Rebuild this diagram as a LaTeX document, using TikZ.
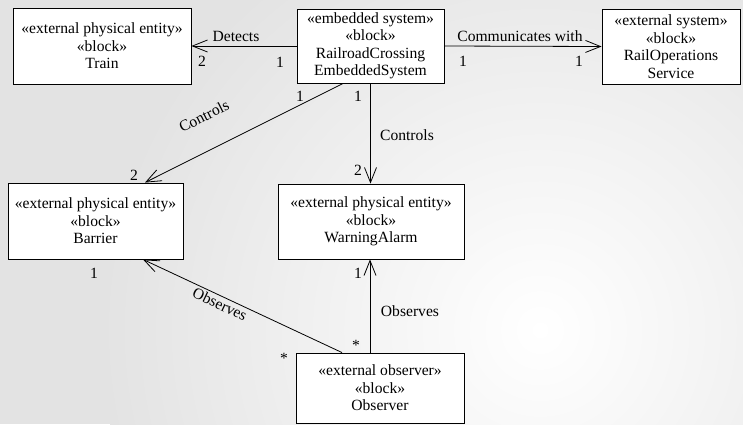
\documentclass[tikz,border=0pt]{standalone}
\usepackage{fontspec}
\setmainfont{Liberation Serif}
\usetikzlibrary{arrows.meta}
\begin{document}
\begin{tikzpicture}[x=1pt,y=-1pt,
  block/.style={draw=black,line width=0.9pt,fill=white,align=center,
    inner sep=0pt,font=\rmfamily\fontsize{15.6}{17.5}\selectfont},
  assoc/.style={draw=black,line width=0.8pt,
    -{Straight Barb[length=15pt,width=12pt,line width=0.8pt]}},
  lbl/.style={inner sep=0pt,font=\rmfamily\fontsize{15.6}{16}\selectfont},
  mult/.style={inner sep=0pt,font=\rmfamily\fontsize{15.6}{16}\selectfont}]
  % background
  \useasboundingbox (0,0) rectangle (743,424);
  \fill[black!11] (0,0) rectangle (743,424);
  \shade[inner color=white,outer color=black!11] (540,330) circle[radius=440];

  % blocks
  \node[block,minimum width=178pt,minimum height=76pt] (train) at (102,46)
    {«external physical entity»\\«block»\\Train};
  \node[block,minimum width=147pt,minimum height=74pt] (rc) at (370.5,46)
    {«embedded system»\\«block»\\RailroadCrossing\\EmbeddedSystem};
  \node[block,minimum width=138pt,minimum height=75pt] (ops) at (671,46.5)
    {«external system»\\«block»\\RailOperations\\Service};
  \node[block,minimum width=175pt,minimum height=76pt] (barrier) at (95.5,221)
    {«external physical entity»\\«block»\\Barrier};
  \node[block,minimum width=186pt,minimum height=75pt] (alarm) at (371,221.5)
    {«external physical entity»\\«block»\\WarningAlarm};
  \node[block,minimum width=168pt,minimum height=70pt] (obs) at (380,388)
    {«external observer»\\«block»\\Observer};

  % associations
  \draw[assoc] (rc.west) -- (train.east);
  \draw[assoc] (rc.east) -- (ops.west);
  \draw[assoc] ([xshift=-27.5pt]rc.south) -- ([xshift=49.5pt]barrier.north);
  \draw[assoc] (rc.south) -- (rc.south |- alarm.north);
  \draw[assoc] ([xshift=-38pt]obs.north) -- ([xshift=47.5pt]barrier.south);
  \draw[assoc] ([xshift=-10pt]obs.north) -- ([xshift=-10pt]obs.north |- alarm.south);

  % association names
  \node[lbl] (lDetects) at (236,36) {Detects};
  \node[lbl] (lComm) at (520,36) {Communicates with};
  \node[lbl,rotate=26.6] (lCtrlB) at (204,116) {Controls};
  \node[lbl] (lCtrlA) at (407,135) {Controls};
  \node[lbl,rotate=-25.3] (lObsB) at (220,304) {Observes};
  \node[lbl] (lObsA) at (410,311) {Observes};

  % multiplicities
  \node[mult] (m1) at (202,61) {2};
  \node[mult] (m2) at (280,62) {1};
  \node[mult] (m3) at (463,61) {1};
  \node[mult] (m4) at (579,61) {1};
  \node[mult] (m5) at (300,96) {1};
  \node[mult] (m6) at (358,96) {1};
  \node[mult] (m7) at (134,175) {2};
  \node[mult] (m8) at (358,170) {2};
  \node[mult] (m9) at (94,273) {1};
  \node[mult] (m10) at (358,273) {1};
  \node[mult] (m11) at (284,358) {*};
  \node[mult] (m12) at (356,345) {*};
\end{tikzpicture}
\end{document}
